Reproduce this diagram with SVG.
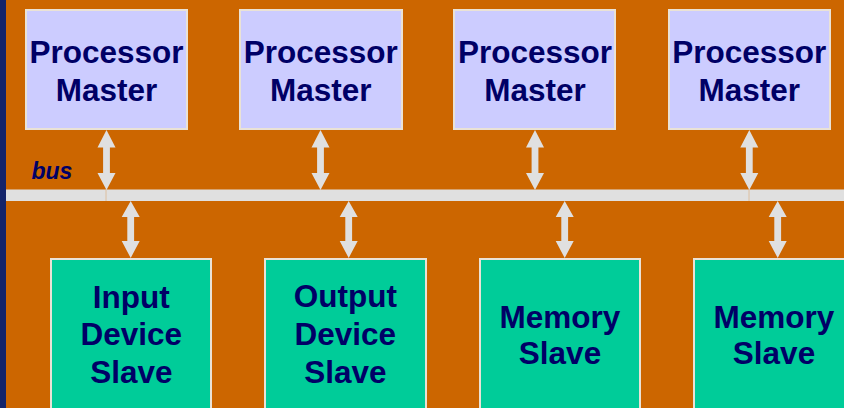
<svg xmlns="http://www.w3.org/2000/svg" xmlns:xlink="http://www.w3.org/1999/xlink" width="844" height="408" viewBox="0 0 844 408">
  <style>
    .master { fill: #CCCCFF; stroke: #EAE2D6; stroke-width: 2; }
    .slave { fill: #00CC99; stroke: #EAE2D6; stroke-width: 2; }
    .label { font-family: "Liberation Sans", Arial, sans-serif; font-weight: bold; font-size: 31.5px; fill: #000066; text-anchor: middle; }
    .bus-label { font-family: "Liberation Sans", Arial, sans-serif; font-weight: bold; font-style: italic; font-size: 23px; fill: #000066; }
    .link { fill: #E0E0E0; }
  </style>
  <defs>
    <!-- double-headed block arrows, drawn around x = 0 -->
    <path id="arrow-up" d="M0,130 L9,147.5 L3.4,147.5 L3.4,173 L9,173 L0,190 L-9,173 L-3.4,173 L-3.4,147.5 L-9,147.5 Z"/>
    <path id="arrow-down" d="M0,201 L9,217 L3.4,217 L3.4,241 L9,241 L0,258 L-9,241 L-3.4,241 L-3.4,217 L-9,217 Z"/>
  </defs>

  <!-- background -->
  <rect x="0" y="0" width="844" height="408" fill="#CC6600"/>
  <rect x="0" y="0" width="6" height="408" fill="#14246A"/>

  <!-- bus and links -->
  <g id="connectors">
    <rect class="link" x="6" y="189.5" width="838" height="11.5"/>
    <line x1="106" y1="189.5" x2="106" y2="201" stroke="#DDB890" stroke-width="0.8"/>
    <line x1="749" y1="189.5" x2="749" y2="201" stroke="#DDB890" stroke-width="0.8"/>
    <use class="link" xlink:href="#arrow-up" x="106.5"/>
    <use class="link" xlink:href="#arrow-up" x="320.5"/>
    <use class="link" xlink:href="#arrow-up" x="535"/>
    <use class="link" xlink:href="#arrow-up" x="749.3"/>
    <use class="link" xlink:href="#arrow-down" x="130.7"/>
    <use class="link" xlink:href="#arrow-down" x="348.7"/>
    <use class="link" xlink:href="#arrow-down" x="564.7"/>
    <use class="link" xlink:href="#arrow-down" x="777.7"/>
  </g>

  <text class="bus-label" x="31.5" y="179.3">bus</text>

  <!-- masters -->
  <g id="master1">
    <rect class="master" x="26" y="10" width="161" height="119"/>
    <text class="label" x="106.5" y="63.3">Processor</text>
    <text class="label" x="106.5" y="101">Master</text>
  </g>
  <g id="master2">
    <rect class="master" x="240" y="10" width="162" height="119"/>
    <text class="label" x="320.7" y="63.3">Processor</text>
    <text class="label" x="320.7" y="101">Master</text>
  </g>
  <g id="master3">
    <rect class="master" x="454" y="10" width="161" height="119"/>
    <text class="label" x="535" y="63.3">Processor</text>
    <text class="label" x="535" y="101">Master</text>
  </g>
  <g id="master4">
    <rect class="master" x="669" y="10" width="161" height="119"/>
    <text class="label" x="749.3" y="63.3">Processor</text>
    <text class="label" x="749.3" y="101">Master</text>
  </g>

  <!-- slaves -->
  <g id="slave1">
    <rect class="slave" x="51" y="259" width="160" height="160"/>
    <text class="label" x="131.3" y="307.5">Input</text>
    <text class="label" x="131.3" y="345.3">Device</text>
    <text class="label" x="131.3" y="383.3">Slave</text>
  </g>
  <g id="slave2">
    <rect class="slave" x="265" y="259" width="161" height="160"/>
    <text class="label" x="345.3" y="307">Output</text>
    <text class="label" x="345.3" y="345.3">Device</text>
    <text class="label" x="345.3" y="383.3">Slave</text>
  </g>
  <g id="slave3">
    <rect class="slave" x="480" y="259" width="160" height="160"/>
    <text class="label" x="560" y="327.5">Memory</text>
    <text class="label" x="560" y="364.3">Slave</text>
  </g>
  <g id="slave4">
    <rect class="slave" x="694" y="259" width="160" height="160"/>
    <text class="label" x="774" y="327.5">Memory</text>
    <text class="label" x="774" y="364.3">Slave</text>
  </g>
</svg>
